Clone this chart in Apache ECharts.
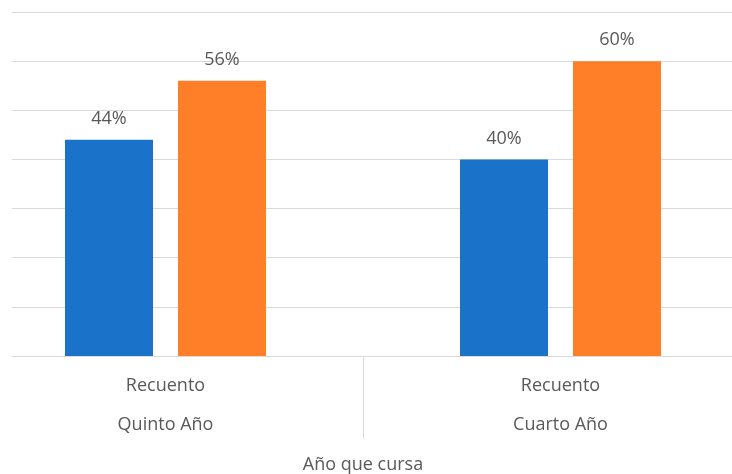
<!DOCTYPE html>
<html>
<head>
<meta charset="utf-8">
<script src="https://cdn.jsdelivr.net/npm/echarts@6/dist/echarts.min.js"></script>
<style>
  html, body { margin: 0; padding: 0; background: #ffffff; }
  #chart { width: 732px; height: 474px; }
</style>
</head>
<body>
<div id="chart"></div>
<script>
const categories = ['Quinto Año', 'Cuarto Año'];
const subCategory = 'Recuento';
const seriesNames = ['Serie 1', 'Serie 2'];
const blueValues = [0.44, 0.40];
const orangeValues = [0.56, 0.60];
const axisTitle = 'Año que cursa';
const yMin = 0, yMax = 0.7, yInterval = 0.1;

const FONT = '"Open Sans", "Liberation Sans", sans-serif';
const TEXT = '#595959';
const LINE = '#d9d9d9';

const chart = echarts.init(document.getElementById('chart'), null, { renderer: 'canvas' });

const labelCfg = {
  show: true,
  position: 'top',
  distance: 12,
  color: TEXT,
  fontFamily: FONT,
  fontSize: 18,
  lineHeight: 18,
  formatter: p => Math.round(p.value * 100) + '%'
};

chart.setOption({
  animation: false,
  backgroundColor: '#ffffff',
  grid: [
    { left: 12, right: 0, top: 12, height: 344, outerBoundsMode: 'none', containLabel: false },
    { left: -32, width: 790, top: 12, height: 344, outerBoundsMode: 'none', containLabel: false }
  ],
  xAxis: [
    {
      gridIndex: 0, type: 'category', data: categories,
      axisLine: { show: true, lineStyle: { color: LINE, width: 1 } },
      axisTick: { show: false }, axisLabel: { show: false }, splitLine: { show: false }
    },
    {
      gridIndex: 1, type: 'category', data: categories,
      axisLine: { show: false },
      axisTick: { show: true, length: 82, lineStyle: { color: LINE, width: 1 } },
      axisLabel: {
        show: true, margin: 10, color: TEXT, fontFamily: FONT, fontSize: 18, lineHeight: 39,
        formatter: v => subCategory + '\n' + v
      },
      name: axisTitle, nameLocation: 'middle', nameGap: 100,
      nameTextStyle: { color: TEXT, fontFamily: FONT, fontSize: 18, lineHeight: 18 }
    }
  ],
  yAxis: [
    {
      gridIndex: 0, type: 'value', min: yMin, max: yMax, interval: yInterval,
      axisLine: { show: false }, axisTick: { show: false }, axisLabel: { show: false },
      splitLine: { show: true, lineStyle: { color: LINE, width: 1 } }
    },
    {
      gridIndex: 1, type: 'value', min: yMin, max: yMax, interval: yInterval,
      show: false, splitLine: { show: false }
    }
  ],
  series: [
    {
      name: seriesNames[0], type: 'bar', xAxisIndex: 1, yAxisIndex: 1,
      data: blueValues, barWidth: 88, barGap: '28.4%',
      itemStyle: { color: '#1b72c9' }, label: labelCfg
    },
    {
      name: seriesNames[1], type: 'bar', xAxisIndex: 1, yAxisIndex: 1,
      data: orangeValues, barWidth: 88, barGap: '28.4%',
      itemStyle: { color: '#fe7f28' }, label: labelCfg
    }
  ]
});
</script>
</body>
</html>
